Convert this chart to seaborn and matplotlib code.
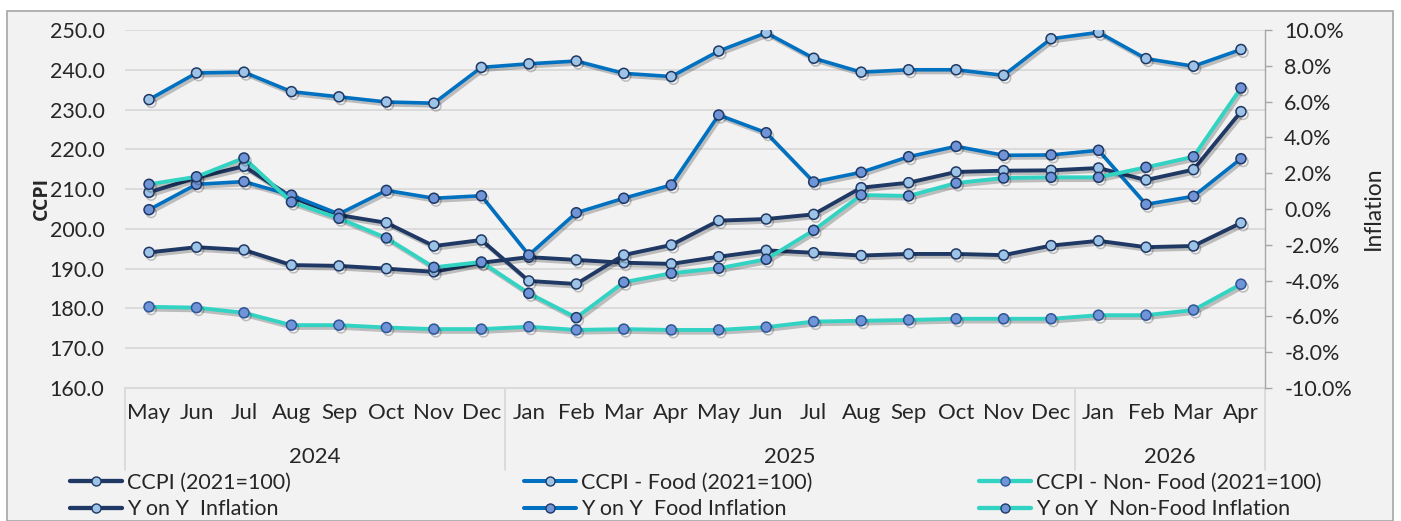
import matplotlib
matplotlib.use("Agg")
import matplotlib.pyplot as plt
import matplotlib.patheffects as pe
from matplotlib.patches import Rectangle
from matplotlib.lines import Line2D
import seaborn as sns
import pandas as pd
import numpy as np

# ---------------- data ----------------
months = ["May", "Jun", "Jul", "Aug", "Sep", "Oct", "Nov", "Dec",
          "Jan", "Feb", "Mar", "Apr", "May", "Jun", "Jul", "Aug", "Sep", "Oct", "Nov", "Dec",
          "Jan", "Feb", "Mar", "Apr"]
years = ["2024"] * 8 + ["2025"] * 12 + ["2026"] * 4

ccpi = [194.1, 195.4, 194.7, 190.9, 190.7, 190.0, 189.2, 191.5,
        192.9, 192.2, 191.5, 191.2, 193.0, 194.6, 194.0, 193.3, 193.7, 193.7, 193.4, 195.8,
        197.0, 195.4, 195.7, 201.5]
ccpi_food = [232.5, 239.2, 239.4, 234.5, 233.2, 231.9, 231.6, 240.6,
             241.5, 242.2, 239.1, 238.3, 244.7, 249.3, 242.9, 239.4, 240.0, 240.0, 238.6, 247.8,
             249.4, 242.8, 240.9, 245.1]
ccpi_nonfood = [180.4, 180.2, 178.9, 175.8, 175.8, 175.2, 174.8, 174.8,
                175.4, 174.6, 174.8, 174.6, 174.6, 175.3, 176.7, 176.9, 177.1, 177.4, 177.4, 177.4,
                178.3, 178.3, 179.6, 186.1]
yoy_infl = [0.93, 1.75, 2.39, 0.67, -0.34, -0.77, -2.07, -1.73,
            -4.02, -4.19, -2.57, -2.01, -0.65, -0.56, -0.30, 1.19, 1.47, 2.07, 2.14, 2.16,
            2.29, 1.62, 2.20, 5.44]
yoy_food = [-0.04, 1.38, 1.53, 0.77, -0.28, 1.04, 0.60, 0.74,
            -2.57, -0.21, 0.60, 1.34, 5.25, 4.26, 1.51, 2.05, 2.92, 3.50, 3.00, 3.02,
            3.28, 0.26, 0.71, 2.81]
yoy_nonfood = [1.38, 1.80, 2.85, 0.39, -0.52, -1.62, -3.26, -2.96,
               -4.71, -6.07, -4.09, -3.59, -3.31, -2.81, -1.19, 0.78, 0.73, 1.45, 1.73, 1.77,
               1.77, 2.33, 2.92, 6.76]

labels = ["CCPI (2021=100)", "CCPI - Food (2021=100)", "CCPI - Non- Food (2021=100)",
          "Y on Y  Inflation", "Y on Y  Food Inflation", "Y on Y  Non-Food Inflation"]

# ---------------- style ----------------
sns.set_theme(style="white")
plt.rcParams["font.family"] = ["Lato", "DejaVu Sans"]

NAVY = "#1F3864"
BLUE = "#0070C0"
TURQ = "#33D3C3"
LIGHT = "#9DC3E6"
MID = "#6F95D8"
BG = "#F2F2F2"
GRID = "#D9D9D9"
TXT = "#262626"

W, H = 1401, 521
fig = plt.figure(figsize=(W / 100, H / 100), dpi=100)
fig.patch.set_facecolor("white")
fig.patches.append(Rectangle((7 / W, 0), (1393 - 7) / W, 1 - 11 / H, transform=fig.transFigure,
                             facecolor=BG, edgecolor="#A6A6A6", linewidth=1.2, zorder=-10))

x0, x1, ytop, ybot = 125.3, 1264.7, 30, 388
ax = fig.add_axes([x0 / W, 1 - ybot / H, (x1 - x0) / W, (ybot - ytop) / H])
ax.set_facecolor("none")
ax2 = ax.twinx()
ax2.set_facecolor("none")

idx = np.arange(len(months))
df = pd.DataFrame({"idx": idx, "ccpi": ccpi, "food": ccpi_food, "nonfood": ccpi_nonfood,
                   "yoy": yoy_infl, "yoyfood": yoy_food, "yoynonfood": yoy_nonfood})

shadow = [pe.SimpleLineShadow(offset=(1.5, -2.0), shadow_color="black", alpha=0.22), pe.Normal()]

specs = [
    (ax, "ccpi", NAVY, LIGHT, NAVY, 2.8),
    (ax, "food", BLUE, LIGHT, NAVY, 2.6),
    (ax, "nonfood", TURQ, MID, "#2F5597", 2.8),
    (ax2, "yoy", NAVY, LIGHT, NAVY, 2.8),
    (ax2, "yoyfood", BLUE, MID, NAVY, 2.6),
    (ax2, "yoynonfood", TURQ, MID, NAVY, 2.8),
]
handles = []
for a, col, lc, mfc, mec, lw in specs:
    sns.lineplot(data=df, x="idx", y=col, ax=a, color=lc, linewidth=lw, marker="o",
                 markersize=7.2, markerfacecolor=mfc, markeredgecolor=mec, markeredgewidth=1.1)
    ln = a.lines[-1]
    ln.set_path_effects(shadow)
    handles.append(Line2D([], [], color=lc, linewidth=lw + 0.3, marker="o", markersize=6.5,
                          markerfacecolor=mfc, markeredgecolor=mec, markeredgewidth=1.0))

# ---------------- axes ----------------
ax.set_xlim(-0.5, len(months) - 0.5)
ax.set_ylim(160, 250)
ax.set_yticks(np.arange(160, 251, 10))
ax.set_yticklabels([f"{v:.1f}" for v in np.arange(160, 251, 10)])
ax2.set_ylim(-10, 10)
ax2.set_yticks(np.arange(-10, 10.1, 2))
ax2.set_yticklabels([f"{v:.1f}%" for v in np.arange(-10, 10.1, 2)])

ax.yaxis.grid(True, color=GRID, linewidth=1.3)
ax.set_axisbelow(True)
for s in ["top", "left", "right"]:
    ax.spines[s].set_visible(False)
for s in ["top", "left", "bottom"]:
    ax2.spines[s].set_visible(False)
ax.spines["bottom"].set_color(GRID)
ax.spines["bottom"].set_linewidth(1.3)
ax2.spines["right"].set_color("#A6A6A6")
ax2.spines["right"].set_linewidth(1.0)

ax.set_xticks(idx)
ax.set_xticklabels(months)
ax.tick_params(axis="x", length=0, pad=11, labelsize=16, labelcolor=TXT)
ax.tick_params(axis="y", length=0, pad=15, labelsize=15.5, labelcolor=TXT)
ax2.tick_params(axis="y", length=5, width=1.0, color="#A6A6A6", direction="out", pad=9,
                labelsize=15.5, labelcolor=TXT)
ax.set_xlabel("")
ax.set_ylabel("")
ax2.set_ylabel("")

# year grouping
bounds = [-0.5]
for i in range(1, len(years)):
    if years[i] != years[i - 1]:
        bounds.append(i - 0.5)
bounds.append(len(years) - 0.5)
sep_depth = (470 - ybot) / (ybot - ytop)
for b in bounds:
    ax.plot([b, b], [0, -sep_depth], transform=ax.get_xaxis_transform(), color=GRID,
            linewidth=1.3, clip_on=False)
uniq = []
for y in years:
    if y not in uniq:
        uniq.append(y)
for y in uniq:
    pos = [i for i, v in enumerate(years) if v == y]
    c = (pos[0] + pos[-1]) / 2
    ax.text(c, -(457 - ybot) / (ybot - ytop), y, transform=ax.get_xaxis_transform(),
            ha="center", va="center", fontsize=16, color=TXT)

fig.text(42 / W, 1 - 198 / H, "CCPI", rotation=90, ha="center", va="center",
         fontsize=14, fontweight="bold", color=TXT, family=["Open Sans", "DejaVu Sans"])
fig.text(1373 / W, 1 - 208 / H, "Inflation", rotation=90, ha="center", va="center",
         fontsize=16.5, color=TXT)

# legend: three evenly spaced columns
col_x = [70, 524, 979]
for k in range(3):
    leg = fig.legend([handles[k], handles[k + 3]], [labels[k], labels[k + 3]],
                     loc="center left", bbox_to_anchor=(col_x[k] / W, 1 - 496 / H),
                     frameon=False, borderpad=0, borderaxespad=0, handlelength=2.4,
                     handletextpad=0.23, labelspacing=0.3, fontsize=15.5)
    for t in leg.get_texts():
        t.set_color(TXT)

fig.savefig("out.png", dpi=100, facecolor=fig.get_facecolor())
